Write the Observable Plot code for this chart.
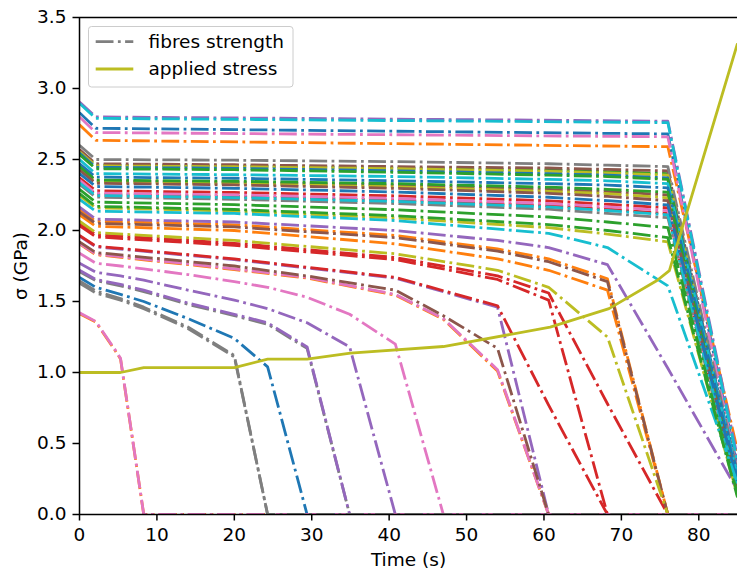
<!DOCTYPE html>
<html><head><meta charset="utf-8">
<script src="https://cdn.jsdelivr.net/npm/d3@7"></script>
<script src="https://cdn.jsdelivr.net/npm/@observablehq/plot@0.6"></script>
<style>body{margin:0;background:#fff}</style>
</head><body><div id="chart"></div>
<script>
const _ = null;
// simulation time points (s)
const times = [0, 2.1, 4.6, 5.3, 8.3, 14, 20, 24.3, 29.4, 34.9, 40.8, 47, 54, 60.6, 68.2, 76, 85];
// matplotlib default colour cycle (fibre i uses colour i % 10)
const palette = ["#1f77b4","#ff7f0e","#2ca02c","#d62728","#9467bd","#8c564b","#e377c2","#7f7f7f","#bcbd22","#17becf"];
// fibre strengths (GPa) at the time points above; null = no sample read
const fibres = [
  [2.83, 2.72, _,_,_,_,_,_,_,_,_,_,_,_,_, 2.68, 0.33],
  [2.745, 2.635, _,_,_,_,_,_,_,_,_,_,_,_,_, 2.59, 0.45],
  [2.56, 2.46, _,_,_,_, 2.454, _,_,_, 2.44, _,_, 2.425, 2.415, 2.40, 0.22],
  [2.37, 2.28, _,_,_,_, 2.268, _,_,_, 2.244, _,_, 2.209, 2.185, 2.16, 0.20],
  [2.905, 2.80, _,_,_,_,_,_,_,_,_,_,_,_,_, 2.77, 0.40],
  [2.57, 2.47, _,_,_,_, 2.463, _,_,_, 2.45, _,_, 2.44, 2.43, 2.42, 0.26],
  [2.80, 2.69, _,_,_,_,_,_,_,_,_,_,_,_,_, 2.66, 0.30],
  [2.60, 2.50, _,_,_,_, 2.495, _,_,_, 2.485, _,_, 2.47, 2.46, 2.45, 0.30],
  [2.555, 2.455, _,_,_,_, 2.449, _,_,_, 2.435, _,_, 2.417, 2.405, 2.39, 0.24],
  [2.895, 2.79, _,_,_,_,_,_,_,_,_,_,_,_,_, 2.76, 0.37],

  [2.545, 2.445, _,_,_,_, 2.438, _,_,_, 2.42, _,_, 2.40, 2.39, 2.37, 0.28],
  [2.15, 2.065, _,_,_,_, 2.04, _,_,_, 1.965, _, 1.87, 1.80, 1.66, 0, 0],
  [2.535, 2.435, _,_,_,_, 2.428, _,_,_, 2.41, _,_, 2.39, 2.38, 2.36, 0.20],
  [2.345, 2.255, _,_,_,_, 2.241, _,_,_, 2.214, _,_, 2.175, 2.15, 2.12, 0.18],
  [2.165, 2.08, _,_,_,_, 2.06, _,_,_, 2.00, _, 1.93, 1.88, 1.76, 1.03, 0.17],
  [2.445, 2.35, _,_,_,_, 2.34, _,_,_, 2.32, _,_, 2.29, 2.275, 2.25, 0.23],
  [2.355, 2.263, _,_,_,_, 2.251, _,_,_, 2.226, _,_, 2.19, 2.167, 2.14, 0.17],
  [2.325, 2.235, _,_,_,_, 2.22, _,_,_, 2.19, _,_, 2.15, 2.12, 2.09, 0.16],
  [2.435, 2.34, _,_,_,_, 2.329, _,_,_, 2.307, _,_, 2.276, 2.26, 2.23, 0.21],
  [2.50, 2.40, _,_,_,_, 2.393, _,_,_, 2.38, _,_, 2.36, 2.35, 2.33, 0.27],

  [2.47, 2.376, _,_,_,_, 2.368, _,_,_, 2.35, _,_, 2.33, 2.32, 2.30, 0.25],
  [2.11, 2.03, _,_,_,_, 2.00, _,_,_, 1.906, _, 1.80, 1.72, 1.58, 0, 0],
  [2.45, 2.355, _,_,_,_, 2.347, _,_,_, 2.33, _,_, 2.305, 2.29, 2.27, 0.18],
  [2.05, 1.97, _,_,_,_, 1.91, _,_,_, 1.81, _, 1.68, 1.56, 0.78, 0, 0],
  [1.96, 1.885, _,_,_,_, 1.795, _,_,_, 1.665, _, 1.46, 0, _, _, 0],
  [2.425, 2.333, _,_,_,_, 2.321, _,_,_, 2.297, _,_, 2.262, 2.24, 2.21, 0.19],
  [1.84, 1.77, _, 1.75, 1.73, 1.69, 1.64, 1.60, 1.53, 1.41, 1.20, 0, _,_,_,_, 0],
  [1.71, 1.648, _, 1.61, 1.57, 1.48, 1.40, 1.34, 1.17, 0, _,_,_,_,_,_, 0],
  [2.245, 2.16, _,_,_,_, 2.136, _,_,_, 2.088, _,_, 2.02, 1.975, 1.92, 0.13],
  [2.335, 2.246, _,_,_,_, 2.232, _,_,_, 2.205, _,_, 2.166, 2.141, 2.11, 0.19],

  [2.40, 2.31, _,_,_,_, 2.297, _,_,_, 2.271, _,_, 2.234, 2.21, 2.18, 0.22],
  [1.905, 1.83, _,_,_,_, 1.725, _, 1.665, _, 1.545, 1.375, 1.01, 0, _, _, 0],
  [2.29, 2.20, _,_,_,_, 2.182, _,_,_, 2.146, _,_, 2.095, 2.06, 2.02, 0.14],
  [2.035, 1.955, _,_,_,_, 1.895, _,_,_, 1.795, _, 1.655, 1.51, 0, _, 0],
  [1.77, 1.706, _, 1.68, 1.65, 1.58, 1.51, 1.45, 1.35, 1.18, 0, _,_,_,_,_, 0],
  [2.13, 2.05, _,_,_,_, 2.025, _,_,_, 1.95, _, 1.855, 1.78, 1.64, 0, 0],
  [1.91, 1.835, _,_,_,_, 1.73, _, 1.67, _, 1.55, 1.38, 1.02, 0, _, _, 0],
  [1.645, 1.575, _, 1.52, 1.46, 1.32, 1.12, 0, _,_,_,_,_,_,_,_, 0],
  [2.065, 1.985, _,_,_,_, 1.93, _,_,_, 1.836, _, 1.72, 1.60, 1.25, 0, 0],
  [2.22, 2.136, _,_,_,_, 2.12, _,_,_, 2.07, _,_, 1.98, 1.88, 1.61, 0.22],

  [1.67, 1.60, _, 1.55, 1.50, 1.38, 1.24, 1.04, 0, _,_,_,_,_,_,_, 0],
  [1.415, 1.355, 1.155, 1.095, 0, _,_,_,_,_,_,_,_,_,_,_, 0],
  [2.26, 2.17, _,_,_,_, 2.148, _,_,_, 2.104, _,_, 2.042, 2.0, 1.95, 0.12],
  [1.965, 1.89, _,_,_,_, 1.80, _,_,_, 1.67, _, 1.47, 0.77, 0, _, 0],
  [1.72, 1.655, _, 1.62, 1.58, 1.49, 1.41, 1.35, 1.18, 0, _,_,_,_,_,_, 0],
  [1.92, 1.845, _,_,_,_, 1.75, _, 1.68, _, 1.58, 1.40, 1.17, 0, _, _, 0],
  [1.42, 1.36, 1.16, 1.10, 0, _,_,_,_,_,_,_,_,_,_,_, 0],
  [1.63, 1.56, _, 1.51, 1.45, 1.31, 1.11, 0, _,_,_,_,_,_,_,_, 0]
];
// applied stress (GPa)
const stressTimes  = [0, 5.3, 8.3, 20, 24.3, 29.4, 35.0, 47, 60.8, 68.4, 74.6, 76.2, 85];
const stressValues = [1.0, 1.0, 1.035, 1.035, 1.094, 1.094, 1.137, 1.183, 1.319, 1.45, 1.648, 1.718, 3.317];

const xTicks = [0, 10, 20, 30, 40, 50, 60, 70, 80];
const yTicks = [0, 0.5, 1.0, 1.5, 2.0, 2.5, 3.0, 3.5];
const legendLabels = ["fibres strength", "applied stress"];
const xLabel = "Time (s)";
const yLabel = "σ (GPa)";

const rows = fibres.flatMap((f, i) =>
  times.map((t, j) => ({id: i, t, v: f[j], color: palette[i % 10]})).filter(d => d.v != null));
const stress = stressTimes.map((t, j) => ({t, v: stressValues[j]}));

const FS = 18.5, LW = 2.8, DASH = "17.8,4.4,2.8,4.4";
const olive = palette[8], gray = palette[7];

const chart = Plot.plot({
  width: 737, height: 572,
  marginLeft: 79, marginRight: 0, marginTop: 17, marginBottom: 58,
  style: {fontFamily: "DejaVu Sans", fontSize: FS + "px", color: "black", background: "white", overflow: "visible"},
  x: {domain: [0, 85], label: null},
  y: {domain: [0, 3.5], label: null},
  marks: [
    Plot.line(rows, {x: "t", y: "v", z: "id", stroke: "color", strokeWidth: LW,
      strokeDasharray: DASH, strokeLinecap: "butt", strokeLinejoin: "round", clip: true}),
    Plot.line(stress, {x: "t", y: "v", stroke: olive, strokeWidth: LW, strokeLinecap: "butt", clip: true}),
    Plot.ruleY([0, 3.5], {stroke: "black", strokeWidth: 1.5}),
    Plot.ruleX([0], {stroke: "black", strokeWidth: 1.5}),
    Plot.axisX(xTicks, {tickSize: 6.5, tickPadding: 6.5, strokeWidth: 1.5, tickFormat: d => String(d), fontSize: FS}),
    Plot.axisY(yTicks, {tickSize: 6.5, tickPadding: 6.5, strokeWidth: 1.5, tickFormat: d3.format(".1f"), fontSize: FS}),
    Plot.text([xLabel], {frameAnchor: "bottom", lineAnchor: "middle", textAnchor: "middle", dy: 46, fontSize: FS}),
    Plot.text([yLabel], {frameAnchor: "left", lineAnchor: "middle", textAnchor: "middle", rotate: -90, dx: -58, fontSize: FS})
  ]
});
document.getElementById("chart").appendChild(chart);

// legend (upper left, matplotlib style)
const svg = d3.select(chart);
const lg = svg.append("g")
  .style("font-family", "DejaVu Sans").style("font-size", FS + "px");
lg.append("rect").attr("x", 88.5).attr("y", 26.5).attr("width", 204.5).attr("height", 60.5)
  .attr("rx", 3).style("fill", "white").style("fill-opacity", 0.8)
  .style("stroke", "#cccccc").style("stroke-width", 1);
const entries = [
  {label: legendLabels[0], color: gray, dash: DASH, y: 41.7},
  {label: legendLabels[1], color: olive, dash: "none", y: 69}
];
entries.forEach(e => {
  lg.append("path").attr("d", `M95.7,${e.y}H133.3`)
    .style("fill", "none").style("stroke", e.color).style("stroke-width", LW + "px")
    .style("stroke-dasharray", e.dash).style("stroke-linecap", "butt");
  lg.append("text").attr("x", 148.5).attr("y", e.y).attr("dy", "0.35em")
    .style("text-anchor", "start").style("fill", "black").text(e.label);
});
</script>
</body></html>
